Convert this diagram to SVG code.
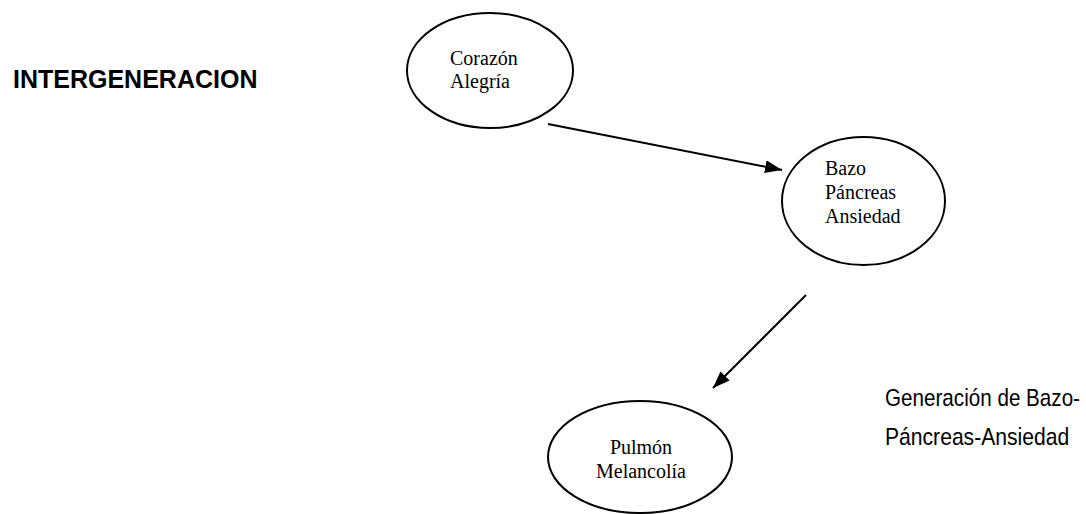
<svg xmlns="http://www.w3.org/2000/svg" width="1086" height="514" viewBox="0 0 1086 514">
  <style>
    .node { fill: #ffffff; stroke: #000000; stroke-width: 2; }
    .label { font-family: "Liberation Serif", "Times New Roman", serif; font-size: 20px; fill: #000000; }
    .title { font-family: "Liberation Sans", Arial, sans-serif; font-size: 25px; font-weight: bold; fill: #000000; }
    .note { font-family: "Liberation Sans", Arial, sans-serif; font-size: 24px; fill: #000000; }
    .edge { fill: none; stroke: #000000; stroke-width: 2; }
  </style>
  <defs>
    <marker id="arrow" markerUnits="userSpaceOnUse" markerWidth="17" markerHeight="13" refX="17" refY="6.5" orient="auto">
      <path d="M0,0 L17,6.5 L0,13 Z" fill="#000000"/>
    </marker>
  </defs>
  <rect width="1086" height="514" fill="#ffffff"/>

  <text class="title" x="13" y="88">INTERGENERACION</text>

  <g id="corazon">
    <ellipse class="node" cx="490" cy="70.5" rx="83" ry="57.5"/>
    <text class="label" x="450" y="65">Corazón</text>
    <text class="label" x="450" y="88">Alegría</text>
  </g>

  <g id="bazo">
    <ellipse class="node" cx="863.5" cy="201" rx="81.5" ry="64"/>
    <text class="label" x="825" y="175">Bazo</text>
    <text class="label" x="825" y="199">Páncreas</text>
    <text class="label" x="825" y="223">Ansiedad</text>
  </g>

  <g id="pulmon">
    <ellipse class="node" cx="640" cy="457" rx="92" ry="56"/>
    <text class="label" x="641" y="454" text-anchor="middle">Pulmón</text>
    <text class="label" x="641" y="478" text-anchor="middle">Melancolía</text>
  </g>

  <g id="connectors">
    <line class="edge" x1="548" y1="124" x2="782" y2="170" marker-end="url(#arrow)"/>
    <line class="edge" x1="806" y1="295" x2="713" y2="388" marker-end="url(#arrow)"/>
  </g>

  <!-- condensed caption on the right -->
  <g id="note">
    <text class="note" transform="translate(885,406) scale(0.86,1)">Generación de Bazo-</text>
    <text class="note" transform="translate(885,445) scale(0.88,1)">Páncreas-Ansiedad</text>
  </g>
</svg>
